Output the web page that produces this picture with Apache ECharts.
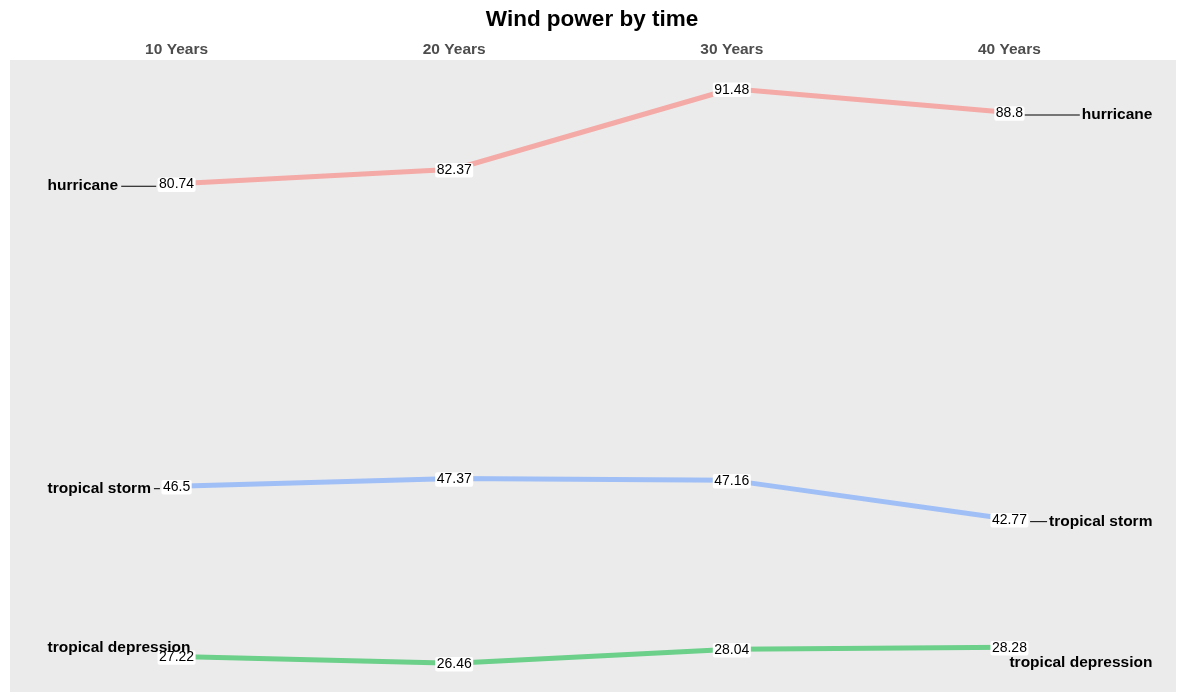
<!DOCTYPE html>
<html>
<head>
<meta charset="utf-8">
<script src="https://cdn.jsdelivr.net/npm/echarts@6/dist/echarts.min.js"></script>
<style>
  html, body { margin: 0; padding: 0; background: #fff; }
  #chart { width: 1184px; height: 700px; }
</style>
</head>
<body>
<div id="chart"></div>
<script>
const categories = ['10 Years', '20 Years', '30 Years', '40 Years'];
const hurricane = [80.74, 82.37, 91.48, 88.8];
const tropicalStorm = [46.5, 47.37, 47.16, 42.77];
const tropicalDepression = [27.22, 26.46, 28.04, 28.28];
const groupNames = ['hurricane', 'tropical storm', 'tropical depression'];
const chartTitle = 'Wind power by time';

const FONT = '"Liberation Sans", Arial, sans-serif';
const groups = [hurricane, tropicalStorm, tropicalDepression];
const colors = ['#F4AAA6', '#A0BFF6', '#6CCF8A'];

// ggplot-like 5% expansion of the value range
const allVals = groups.flat();
const lo = Math.min(...allVals), hi = Math.max(...allVals);
const pad = (hi - lo) * 0.05;

// name-label styling per group: left / right connectors and offsets
const nameStyle = [
  { leftConn: 35, leftDy: 2.5, rightConn: 55, rightDy: 2.5 },
  { leftConn: 6, leftDy: 2.5, rightConn: 17, rightDy: 2.5 },
  { leftConn: 0, leftDy: -9, rightConn: 0, rightDy: 16 }
];

const rich = {
  n: { fontFamily: FONT, fontSize: 15.5, fontWeight: 'bold', color: '#000' },
  nl: { fontFamily: FONT, fontSize: 15.5, fontWeight: 'bold', color: '#000', padding: [0, 3, 0, 0] },
  nr: { fontFamily: FONT, fontSize: 15.5, fontWeight: 'bold', color: '#000', padding: [0, 0, 0, 2] }
};
nameStyle.forEach((s, i) => {
  rich['cl' + i] = { width: s.leftConn, height: 1, backgroundColor: '#000' };
  rich['cr' + i] = { width: s.rightConn, height: 1, backgroundColor: '#000' };
});

const series = groups.map((vals, gi) => {
  const s = nameStyle[gi];
  const last = vals.length - 1;
  const leftFmt = s.leftConn > 0 ? '{nl|' + groupNames[gi] + '}{cl' + gi + '| }' : '{n|' + groupNames[gi] + '}';
  const rightFmt = s.rightConn > 0 ? '{cr' + gi + '| }{nr|' + groupNames[gi] + '}' : '{n|' + groupNames[gi] + '}';
  return {
    name: groupNames[gi],
    type: 'line',
    data: vals.map((v, i) => [i, v]),
    symbol: 'circle',
    symbolSize: 0,
    lineStyle: { color: colors[gi], width: 5 },
    itemStyle: { color: colors[gi] },
    z: 2,
    label: {
      show: true,
      position: 'inside',
      offset: [0, 1],
      formatter: p => String(p.value[1]),
      fontFamily: FONT,
      fontSize: 14,
      color: '#000',
      backgroundColor: '#fff',
      padding: [1.5, 1.5, 0, 1.5],
      lineHeight: 13,
      borderRadius: 2
    },
    markPoint: {
      symbol: 'circle',
      symbolSize: 0,
      silent: true,
      itemStyle: { color: 'rgba(0,0,0,0)' },
      data: [
        {
          coord: [0, vals[0]],
          label: {
            show: true,
            formatter: leftFmt,
            position: [-129, s.leftDy],
            align: 'left',
            verticalAlign: 'middle',
            rich: rich
          }
        },
        {
          coord: [last, vals[last]],
          label: {
            show: true,
            formatter: rightFmt,
            position: [143, s.rightDy],
            align: 'right',
            verticalAlign: 'middle',
            rich: rich
          }
        }
      ]
    }
  };
});

const chart = echarts.init(document.getElementById('chart'));
chart.setOption({
  animation: false,
  backgroundColor: '#fff',
  title: {
    text: chartTitle,
    left: 'center',
    top: 3,
    textStyle: { fontFamily: FONT, fontSize: 22.5, fontWeight: 'bold', color: '#000' }
  },
  grid: {
    left: 10, right: 8, top: 60, bottom: 8,
    show: true, backgroundColor: '#EBEBEB', borderWidth: 0
  },
  xAxis: {
    type: 'value',
    position: 'top',
    min: -0.6,
    max: categories.length - 1 + 0.6,
    axisLine: { show: false },
    axisTick: { show: false },
    splitLine: { show: false },
    axisLabel: {
      customValues: categories.map((c, i) => i),
      formatter: v => categories[Math.round(v)] || '',
      fontFamily: FONT,
      fontSize: 15.5,
      fontWeight: 'bold',
      color: '#4D4D4D',
      margin: 2
    }
  },
  yAxis: {
    type: 'value',
    min: lo - pad,
    max: hi + pad,
    show: false
  },
  series: series
});
</script>
</body>
</html>
